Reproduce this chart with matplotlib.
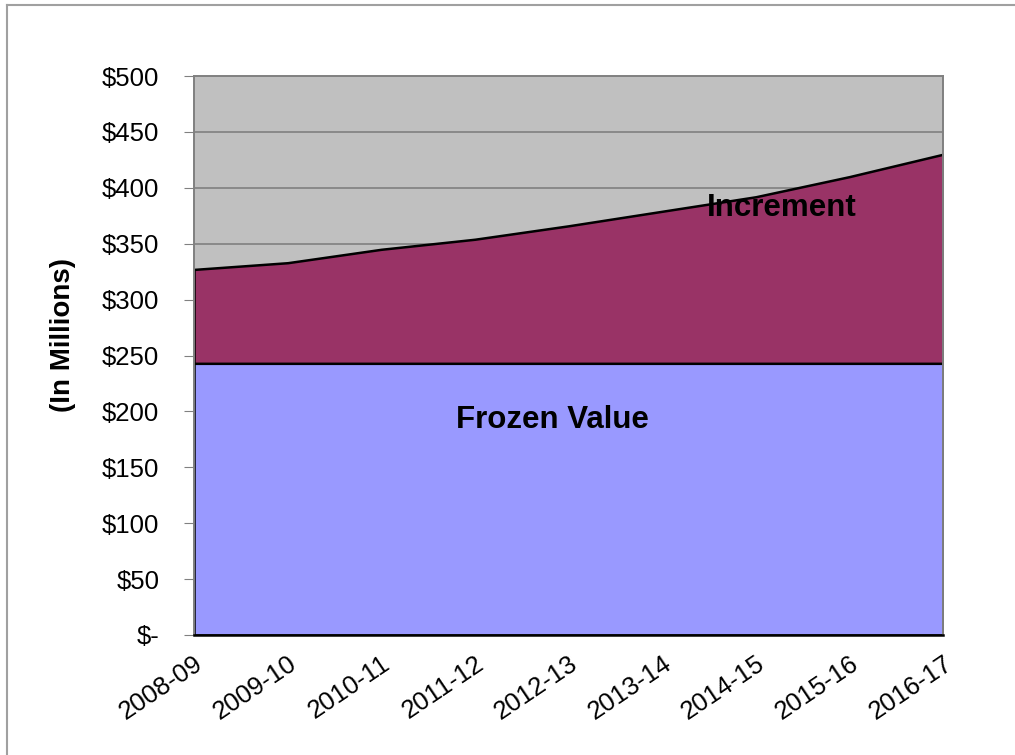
import matplotlib
matplotlib.use("Agg")
import matplotlib.pyplot as plt
from matplotlib.lines import Line2D
import numpy as np

plt.rcParams['font.family'] = ['Liberation Sans', 'DejaVu Sans']

years = ["2008-09", "2009-10", "2010-11", "2011-12", "2012-13",
         "2013-14", "2014-15", "2015-16", "2016-17"]
frozen = [243, 243, 243, 243, 243, 243, 243, 243, 243]
total = [327, 333, 345, 354, 366, 379, 392, 410, 430]
increment = [t - f for t, f in zip(total, frozen)]
yticks = [0, 50, 100, 150, 200, 250, 300, 350, 400, 450, 500]

fig = plt.figure(figsize=(10.15, 7.55), dpi=100)
ax = fig.add_axes([194/1015, 1-635/755, (943-194)/1015, (635-76)/755])
ax.set_facecolor('#C0C0C0')

x = np.arange(len(years))
ax.stackplot(x, frozen, increment, colors=['#9999FF', '#993366'],
             edgecolor='black', linewidth=1.8)

ax.set_xlim(0, len(years) - 1)
ax.set_ylim(0, 500)
ax.set_yticks(yticks)
ax.set_yticklabels(["$-" if v == 0 else f"${v}" for v in yticks], fontsize=18.5)
for v in yticks[1:-1]:
    ax.axhline(v, color='#808080', linewidth=1.2, zorder=0.5)
ax.set_xticks(x)
ax.set_xticklabels(years, rotation=34, ha='right', rotation_mode='anchor', fontsize=18.5)
ax.tick_params(axis='x', length=0, pad=12)
ax.tick_params(axis='y', length=7, color='#808080', direction='out', pad=18)
for s in ['top', 'right', 'left']:
    ax.spines[s].set_color('#808080')
    ax.spines[s].set_linewidth(1.4)
ax.spines['bottom'].set_color('black')
ax.spines['bottom'].set_linewidth(1.8)

fig.text(63/1015, 1-335/755, "(In Millions)", fontsize=20, fontweight='bold',
         rotation=90, ha='center', va='center')

ax.text(3.83, 192, "Frozen Value", fontsize=22.5, fontweight='bold',
        ha='center', va='center')
ax.text(6.28, 382, "Increment", fontsize=22.5, fontweight='bold',
        ha='center', va='center')

fig.add_artist(Line2D([7/1015, 7/1015], [0, 1-5/755], color='#A0A0A0', linewidth=1.5,
                      transform=fig.transFigure))
fig.add_artist(Line2D([7/1015, 1], [1-5/755, 1-5/755], color='#A0A0A0', linewidth=1.5,
                      transform=fig.transFigure))

fig.savefig("out.png", dpi=100)
